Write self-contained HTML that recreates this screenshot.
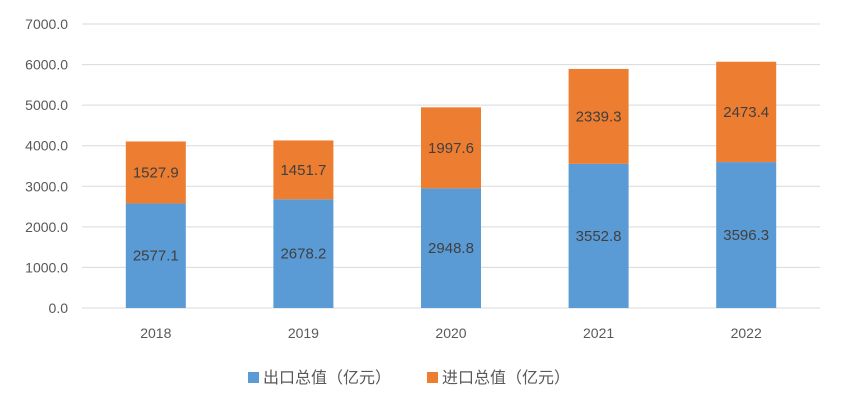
<!DOCTYPE html>
<html><head><meta charset="utf-8">
<style>
html,body{margin:0;padding:0;background:#fff;}
svg{display:block;font-family:"Liberation Sans","Noto Sans CJK SC",sans-serif;}
</style></head>
<body>
<svg id="chart" width="844" height="408"></svg>
<script>
const categories = ["2018","2019","2020","2021","2022"];
const exportValues = [2577.1, 2678.2, 2948.8, 3552.8, 3596.3];
const importValues = [1527.9, 1451.7, 1997.6, 2339.3, 2473.4];
const yTicks = [0,1000,2000,3000,4000,5000,6000,7000];
const seriesNames = ["出口总值（亿元）","进口总值（亿元）"];

const NS = "http://www.w3.org/2000/svg";
const svg = document.getElementById("chart");
const plotL = 82, plotR = 820, y0 = 308, yTop = 24, yMax = 7000;
const yScale = v => y0 - (v / yMax) * (y0 - yTop);
const band = (plotR - plotL) / categories.length;
const xCenter = i => plotL + band * (i + 0.5);
const barW = 60;
function el(tag, attrs, text) {
  const e = document.createElementNS(NS, tag);
  for (const k in attrs) e.setAttribute(k, attrs[k]);
  if (text !== undefined) e.textContent = text;
  svg.appendChild(e);
  return e;
}
yTicks.forEach(t => {
  const g = el("line", {x1: plotL, x2: plotR, y1: yScale(t), y2: yScale(t), stroke: "#d9d9d9", "stroke-width": 1});
  
  
  const lb = el("text", {x: 68, y: yScale(t) + 5, "text-anchor": "end", "font-size": 14, fill: "#595959"}, t.toFixed(1));
  
  
});
categories.forEach((c, i) => {
  const cx = xCenter(i);
  const eTop = yScale(exportValues[i]);
  const iTop = yScale(exportValues[i] + importValues[i]);
  const b1 = el("rect", {x: cx - barW/2, y: eTop, width: barW, height: y0 - eTop, fill: "#5B9BD5"});
  
  
  const b2 = el("rect", {x: cx - barW/2, y: iTop, width: barW, height: eTop - iTop, fill: "#ED7D31"});
  
  
  const t1 = el("text", {x: cx, y: (eTop + y0)/2 + 5, "text-anchor": "middle", "font-size": 15, fill: "#404040"}, exportValues[i].toFixed(1));
  
  
  const t2 = el("text", {x: cx, y: (iTop + eTop)/2 + 5, "text-anchor": "middle", "font-size": 15, fill: "#404040"}, importValues[i].toFixed(1));
  
  
  const xl = el("text", {x: cx, y: 338, "text-anchor": "middle", "font-size": 14, fill: "#595959"}, c);
  
  
});
const colors = ["#5B9BD5","#ED7D31"];
const legX = [248, 427];
seriesNames.forEach((n, i) => {
  const s = el("rect", {x: legX[i], y: 372, width: 11, height: 11, fill: colors[i]});
  
  
  const t = el("text", {x: legX[i] + 15, y: 383, "font-size": 16, fill: "#595959"}, n);
  
  
});
</script>
</body></html>
